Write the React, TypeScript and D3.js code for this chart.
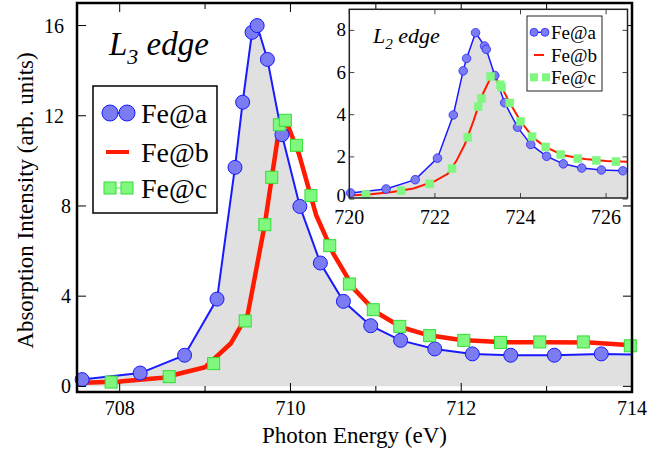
import React from 'react';
import * as d3 from 'd3';

// ---- Main panel (L3 edge) data ----
const l3EnergyA = [707.45, 707.56, 708.24, 708.76, 709.14, 709.35, 709.44, 709.55, 709.61, 709.73, 709.90, 710.11, 710.35, 710.62, 710.94, 711.29, 711.69, 712.13, 712.58, 713.09, 713.64, 714.2];
const l3IntensityA = [0.29, 0.30, 0.59, 1.38, 3.87, 9.71, 12.6, 15.7, 16.0, 14.5, 11.16, 7.98, 5.47, 3.77, 2.69, 2.04, 1.66, 1.44, 1.38, 1.38, 1.44, 1.40];

const l3EnergyB = [707.5, 708.0, 708.5, 709.0, 709.3, 709.5, 709.7, 709.85, 709.95, 710.1, 710.3, 710.5, 710.75, 711.0, 711.3, 711.6, 712.0, 712.5, 713.0, 713.5, 714.0];
const l3IntensityB = [0.15, 0.22, 0.38, 0.85, 1.9, 3.2, 7.2, 11.0, 11.75, 10.3, 7.6, 5.9, 4.3, 3.3, 2.62, 2.28, 2.06, 1.96, 1.96, 1.95, 1.82];

const l3EnergyC = [707.90, 708.58, 709.10, 709.47, 709.70, 709.78, 709.87, 709.94, 710.07, 710.24, 710.46, 710.69, 710.97, 711.28, 711.63, 712.03, 712.46, 712.92, 713.43, 713.98];
const l3IntensityC = [0.19, 0.43, 1.01, 2.90, 7.17, 9.27, 11.6, 11.8, 10.69, 8.46, 6.24, 4.54, 3.40, 2.66, 2.25, 2.04, 1.95, 1.97, 1.97, 1.80];

// ---- Inset (L2 edge) data ----
const l2EnergyA = [719.9, 720.03, 720.86, 721.54, 722.06, 722.43, 722.66, 722.74, 722.95, 723.16, 723.20, 723.40, 723.63, 723.93, 724.24, 724.61, 725.0, 725.43, 725.89, 726.39, 726.6];
const l2IntensityA = [0.28, 0.29, 0.48, 0.92, 1.94, 3.99, 6.08, 6.67, 7.89, 7.26, 7.1, 5.86, 4.57, 3.41, 2.59, 2.03, 1.67, 1.47, 1.38, 1.34, 1.33];

const l2EnergyB = [720.0, 720.5, 721.0, 721.5, 722.0, 722.3, 722.5, 722.7, 722.9, 723.1, 723.3, 723.4, 723.55, 723.75, 724.0, 724.3, 724.6, 725.0, 725.5, 726.0, 726.5];
const l2IntensityB = [0.17, 0.23, 0.33, 0.5, 0.85, 1.2, 1.8, 2.6, 3.7, 4.9, 5.75, 5.8, 5.35, 4.55, 3.7, 2.9, 2.45, 2.08, 1.9, 1.81, 1.77];

const l2EnergyC = [720.39, 721.21, 721.88, 722.40, 722.77, 723.01, 723.09, 723.30, 723.53, 723.56, 723.75, 724.0, 724.27, 724.59, 724.94, 725.34, 725.77, 726.23];
const l2IntensityC = [0.21, 0.39, 0.72, 1.45, 2.93, 4.38, 4.77, 5.81, 5.42, 5.3, 4.56, 3.69, 2.96, 2.47, 2.11, 1.92, 1.83, 1.78];

const seriesNames = ['Fe@a', 'Fe@b', 'Fe@c'];

const mainXTicks = [708, 710, 712, 714];
const mainXMinorTicks = [709, 711, 713];
const mainYTicks = [0, 4, 8, 12, 16];
const insetXTicks = [720, 722, 724, 726];
const insetYTicks = [0, 2, 4, 6, 8];

const FONT = '"Liberation Serif", "Times New Roman", serif';
const BLUE_FILL = '#7b7bf2';
const BLUE = '#1a1aff';
const RED = '#ff1a00';
const GREEN_FILL = '#80f880';
const GREEN = '#33dd33';
const GRAY = '#e0e0e0';

type P = [number, number];
const zip = (xs: number[], ys: number[]): P[] => xs.map((x, i) => [x, ys[i]]);

export default function App() {
  // main scales
  const mx = d3.scaleLinear().domain([707.5, 714]).range([77, 632]);
  const my = d3.scaleLinear().domain([-0.25, 17]).range([392, 3]);
  // inset scales
  const ix = d3.scaleLinear().domain([720, 726.5]).range([349.3, 627.5]);
  const iy = d3.scaleLinear().domain([0.05, 9]).range([198, 9.3]);

  const mA = zip(l3EnergyA, l3IntensityA);
  const mB = zip(l3EnergyB, l3IntensityB);
  const mC = zip(l3EnergyC, l3IntensityC);
  const iA = zip(l2EnergyA, l2IntensityA);
  const iB = zip(l2EnergyB, l2IntensityB);
  const iC = zip(l2EnergyC, l2IntensityC);

  const mLine = d3.line<P>().x(d => mx(d[0])).y(d => my(d[1]));
  const mArea = d3.area<P>().x(d => mx(d[0])).y0(my(0)).y1(d => my(d[1]));
  const iLine = d3.line<P>().x(d => ix(d[0])).y(d => iy(d[1]));
  const iArea = d3.area<P>().x(d => ix(d[0])).y0(iy(0)).y1(d => iy(d[1]));

  const inMain = (d: P) => d[0] >= 707.5 && d[0] <= 714;
  const inInset = (d: P) => d[0] >= 720 && d[0] <= 726.5;

  const [mX0, mX1] = mx.range();
  const [mY0, mY1] = my.range();
  const [iX0, iX1] = ix.range();
  const [iY0, iY1] = iy.range();

  return (
    <svg width={670} height={455} style={{ position: 'absolute', left: 0, top: 0, background: '#fff' }} fontFamily={FONT}>
      <defs>
        <clipPath id="mainClip">
          <rect x={mX0} y={mY1} width={mX1 - mX0} height={mY0 - mY1} />
        </clipPath>
        <clipPath id="insetClip">
          <rect x={iX0} y={iY1} width={iX1 - iX0} height={iY0 - iY1} />
        </clipPath>
      </defs>

      {/* ===== Main panel ===== */}
      <g clipPath="url(#mainClip)">
        <path d={mArea(mA) || ''} fill={GRAY} />
        <path d={mLine(mA) || ''} fill="none" stroke={BLUE} strokeWidth={2} />
        <path d={mLine(mB) || ''} fill="none" stroke={RED} strokeWidth={4.5} strokeLinejoin="round" />
      </g>
      {mA.filter(inMain).map((d, i) => (
        <circle key={'ma' + i} cx={mx(d[0])} cy={my(d[1])} r={7} fill={BLUE_FILL} stroke={BLUE} strokeWidth={1} />
      ))}
      {mC.filter(inMain).map((d, i) => (
        <rect key={'mc' + i} x={mx(d[0]) - 6} y={my(d[1]) - 6} width={12} height={12} fill={GREEN_FILL} stroke={GREEN} strokeWidth={1} />
      ))}

      {/* main ticks */}
      {mainXTicks.map(t => (
        <g key={'mxt' + t}>
          <line x1={mx(t)} x2={mx(t)} y1={mY0} y2={mY0 - 9} stroke="#000" strokeWidth={1} />
          <line x1={mx(t)} x2={mx(t)} y1={mY1} y2={mY1 + 9} stroke="#000" strokeWidth={1} />
          <text x={mx(t)} y={415} fontSize={20} textAnchor="middle">{t}</text>
        </g>
      ))}
      {mainXMinorTicks.map(t => (
        <g key={'mxm' + t}>
          <line x1={mx(t)} x2={mx(t)} y1={mY0} y2={mY0 - 6} stroke="#000" strokeWidth={1} />
          <line x1={mx(t)} x2={mx(t)} y1={mY1} y2={mY1 + 6} stroke="#000" strokeWidth={1} />
        </g>
      ))}
      {mainYTicks.map(t => (
        <g key={'myt' + t}>
          <line x1={mX0} x2={mX0 + 9} y1={my(t)} y2={my(t)} stroke="#000" strokeWidth={1} />
          <line x1={mX1} x2={mX1 - 9} y1={my(t)} y2={my(t)} stroke="#000" strokeWidth={1} />
          <text x={String(t).length > 1 ? 64 : 71} y={my(t) + 7} fontSize={20} textAnchor="end">{t}</text>
        </g>
      ))}
      <rect x={mX0} y={mY1} width={mX1 - mX0} height={mY0 - mY1} fill="none" stroke="#000" strokeWidth={2.5} />

      {/* axis titles */}
      <text x={(mX0 + mX1) / 2} y={443} fontSize={23} textAnchor="middle">Photon Energy (eV)</text>
      <text transform={`translate(33,${(mY0 + mY1) / 2 + 3}) rotate(-90)`} fontSize={23} textAnchor="middle">Absorption Intensity (arb. units)</text>

      {/* L3 edge label */}
      <text x={109} y={55} fontSize={33} fontStyle="italic">
        L<tspan fontSize={22} dy={9}>3</tspan><tspan dy={-9}> edge</tspan>
      </text>

      {/* main legend */}
      <rect x={93} y={86} width={124} height={127} fill="none" stroke="#000" strokeWidth={1.5} />
      {seriesNames.map((name, i) => {
        const cy = [113, 152, 188][i];
        return (
          <g key={'ml' + i}>
            {i === 0 && (
              <g>
                <line x1={110} x2={127} y1={cy} y2={cy} stroke={BLUE} strokeWidth={2} />
                <circle cx={110} cy={cy} r={8} fill={BLUE_FILL} stroke={BLUE} strokeWidth={1} />
                <circle cx={127} cy={cy} r={8} fill={BLUE_FILL} stroke={BLUE} strokeWidth={1} />
              </g>
            )}
            {i === 1 && <line x1={106} x2={129} y1={cy} y2={cy} stroke={RED} strokeWidth={4} />}
            {i === 2 && (
              <g>
                <line x1={110} x2={127} y1={cy} y2={cy} stroke={GREEN_FILL} strokeWidth={1.5} />
                <rect x={104} y={cy - 6} width={12} height={12} fill={GREEN_FILL} stroke={GREEN} strokeWidth={1} />
                <rect x={121} y={cy - 6} width={12} height={12} fill={GREEN_FILL} stroke={GREEN} strokeWidth={1} />
              </g>
            )}
            <text x={141} y={cy + 10} fontSize={28}>{name}</text>
          </g>
        );
      })}

      {/* ===== Inset ===== */}
      <rect x={iX0} y={iY1} width={iX1 - iX0} height={iY0 - iY1} fill="#fff" />
      <g clipPath="url(#insetClip)">
        <path d={iArea(iA) || ''} fill={GRAY} />
        <path d={iLine(iA) || ''} fill="none" stroke={BLUE} strokeWidth={1.5} />
        <path d={iLine(iB) || ''} fill="none" stroke={RED} strokeWidth={2} />
      </g>
      {iA.filter(inInset).map((d, i) => (
        <circle key={'ia' + i} cx={ix(d[0])} cy={iy(d[1])} r={4.3} fill={BLUE_FILL} stroke={BLUE} strokeWidth={0.7} />
      ))}
      {iC.filter(inInset).map((d, i) => (
        <rect key={'ic' + i} x={ix(d[0]) - 4} y={iy(d[1]) - 4} width={8} height={8} fill={GREEN_FILL} stroke={GREEN_FILL} strokeWidth={0.5} />
      ))}
      {insetXTicks.map(t => (
        <g key={'ixt' + t}>
          <line x1={ix(t)} x2={ix(t)} y1={iY0} y2={iY0 - 5} stroke="#444" strokeWidth={1} />
          <line x1={ix(t)} x2={ix(t)} y1={iY1} y2={iY1 + 5} stroke="#444" strokeWidth={1} />
          <text x={ix(t)} y={224} fontSize={20} textAnchor="middle">{t}</text>
        </g>
      ))}
      {insetYTicks.map(t => (
        <g key={'iyt' + t}>
          <line x1={iX0} x2={iX0 + 5} y1={iy(t)} y2={iy(t)} stroke="#444" strokeWidth={1} />
          <line x1={iX1} x2={iX1 - 5} y1={iy(t)} y2={iy(t)} stroke="#444" strokeWidth={1} />
          <text x={346} y={t === 0 ? iy(t) + 3 : iy(t) + 6} fontSize={19} textAnchor="end">{t}</text>
        </g>
      ))}
      <rect x={iX0} y={iY1} width={iX1 - iX0} height={iY0 - iY1} fill="none" stroke="#222" strokeWidth={1.5} />

      <text x={373} y={43} fontSize={22} fontStyle="italic">
        L<tspan fontSize={15} dy={6}>2</tspan><tspan dy={-6}> edge</tspan>
      </text>

      {/* inset legend */}
      <rect x={527} y={16} width={75} height={75} fill="#fff" stroke="#222" strokeWidth={1} />
      {seriesNames.map((name, i) => {
        const cy = [32.3, 55, 77.3][i];
        return (
          <g key={'il' + i}>
            {i === 0 && (
              <g>
                <line x1={534} x2={545} y1={cy} y2={cy} stroke={BLUE} strokeWidth={1.5} />
                <circle cx={534} cy={cy} r={4} fill={BLUE_FILL} stroke={BLUE} strokeWidth={0.7} />
                <circle cx={545} cy={cy} r={4} fill={BLUE_FILL} stroke={BLUE} strokeWidth={0.7} />
              </g>
            )}
            {i === 1 && <line x1={534} x2={544} y1={cy} y2={cy} stroke={RED} strokeWidth={2} />}
            {i === 2 && (
              <g>
                <rect x={530} y={cy - 4} width={8} height={8} fill={GREEN_FILL} />
                <rect x={542} y={cy - 4} width={8} height={8} fill={GREEN_FILL} />
              </g>
            )}
            <text x={551} y={cy + 6.5} fontSize={19}>{name}</text>
          </g>
        );
      })}
    </svg>
  );
}
